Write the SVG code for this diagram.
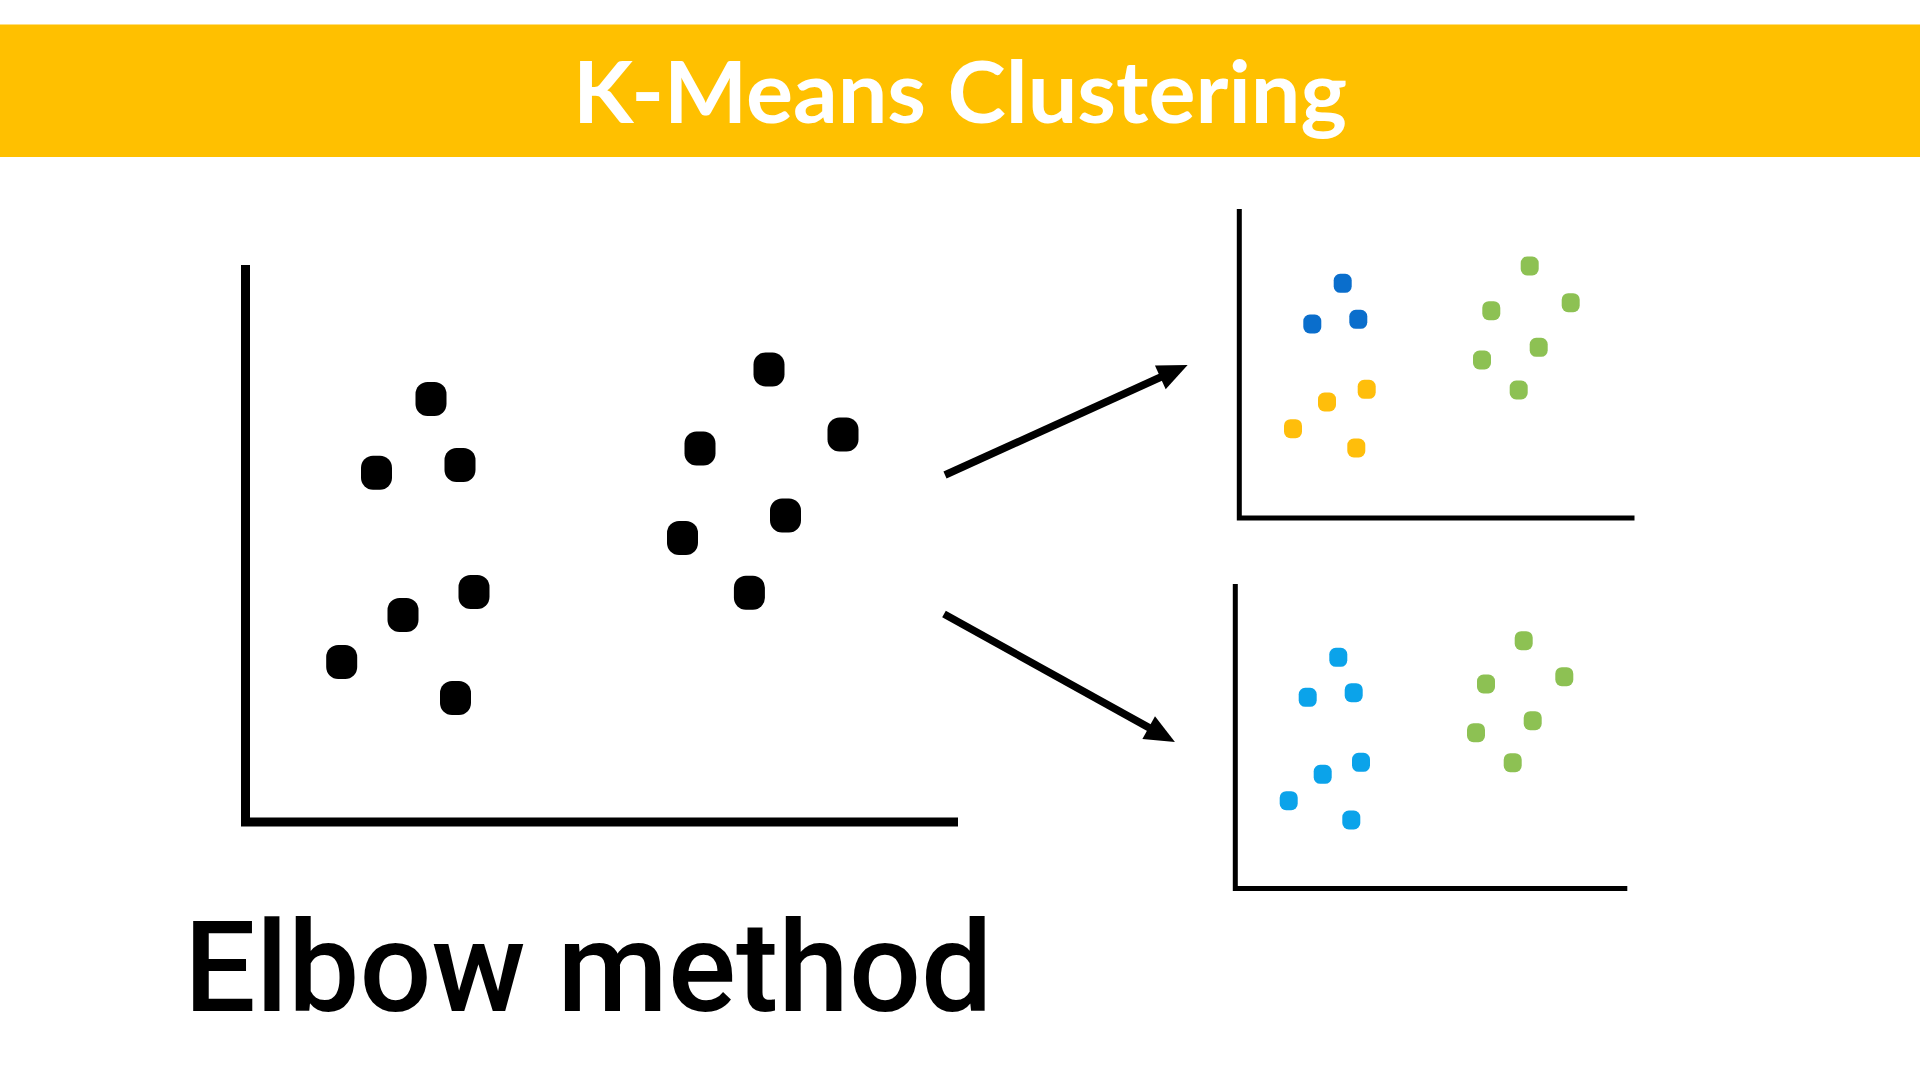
<svg xmlns="http://www.w3.org/2000/svg" width="1920" height="1080" viewBox="0 0 1920 1080">
  <style>
    .axis-big { fill: none; stroke: #000; stroke-width: 9; stroke-linejoin: miter; stroke-linecap: butt; }
    .axis-small { fill: none; stroke: #000; stroke-width: 5; stroke-linejoin: miter; stroke-linecap: butt; }
    .arrow { fill: none; stroke: #000; stroke-width: 7.5; stroke-linecap: butt; }
    .title { font-family: Lato, "Liberation Sans", sans-serif; font-weight: 700; font-size: 86px; fill: #FFFFFF; }
    .caption { font-family: Roboto, "Noto Sans", sans-serif; font-weight: 500; font-size: 127px; fill: #000; }
    .blk { fill: #000; }
    .blue { fill: #0A6ECC; }
    .yellow { fill: #FFBE0B; }
    .green { fill: #8DC153; }
    .sky { fill: #0BA3EA; }
  </style>
  <defs>
    <rect id="bigdot" x="-15.5" y="-17" width="31" height="34" rx="12" ry="12"/>
    <rect id="smalldot" x="-9" y="-9.5" width="18" height="19" rx="6.5" ry="6.5"/>
    <marker id="head" markerUnits="userSpaceOnUse" viewBox="0 0 30 26" markerWidth="30" markerHeight="26" refX="8" refY="13" orient="auto" overflow="visible">
      <path d="M0,0 L30,13 L0,26 Z" fill="#000"/>
    </marker>
  </defs>

  <rect x="0" y="0" width="1920" height="1080" fill="#FFFFFF"/>

  <g id="title-bar">
    <rect x="0" y="24.5" width="1920" height="132.5" fill="#FFC000"/>
    <text class="title" x="573" y="123" textLength="774" lengthAdjust="spacingAndGlyphs">K-Means Clustering</text>
  </g>

  <g id="raw-data-chart">
    <polyline class="axis-big" points="245.5,265 245.5,822 958,822"/>
    <use href="#bigdot" class="blk" x="431" y="399"/>
    <use href="#bigdot" class="blk" x="376.5" y="472.7"/>
    <use href="#bigdot" class="blk" x="460" y="465"/>
    <use href="#bigdot" class="blk" x="474" y="592"/>
    <use href="#bigdot" class="blk" x="403" y="615"/>
    <use href="#bigdot" class="blk" x="341.7" y="662"/>
    <use href="#bigdot" class="blk" x="455.5" y="698"/>
    <use href="#bigdot" class="blk" x="769" y="369.5"/>
    <use href="#bigdot" class="blk" x="700" y="448.5"/>
    <use href="#bigdot" class="blk" x="843" y="434.5"/>
    <use href="#bigdot" class="blk" x="785.5" y="515.5"/>
    <use href="#bigdot" class="blk" x="682.5" y="538"/>
    <use href="#bigdot" class="blk" x="749.4" y="592.7"/>
  </g>

  <g id="connectors">
    <line class="arrow" x1="945" y1="475" x2="1167.6" y2="374" marker-end="url(#head)"/>
    <line class="arrow" x1="944" y1="614" x2="1155.7" y2="731.4" marker-end="url(#head)"/>
  </g>

  <g id="three-cluster-chart">
    <polyline class="axis-small" points="1239.3,209 1239.3,518 1634.5,518"/>
    <use href="#smalldot" class="blue" x="1342.7" y="283.3"/>
    <use href="#smalldot" class="blue" x="1312.3" y="324"/>
    <use href="#smalldot" class="blue" x="1358.3" y="319.3"/>
    <use href="#smalldot" class="yellow" x="1366.7" y="389.3"/>
    <use href="#smalldot" class="yellow" x="1327" y="402"/>
    <use href="#smalldot" class="yellow" x="1293" y="428.7"/>
    <use href="#smalldot" class="yellow" x="1356.3" y="448"/>
    <use href="#smalldot" class="green" x="1529.7" y="266"/>
    <use href="#smalldot" class="green" x="1491.3" y="310.7"/>
    <use href="#smalldot" class="green" x="1570.7" y="302.7"/>
    <use href="#smalldot" class="green" x="1538.7" y="347.3"/>
    <use href="#smalldot" class="green" x="1482" y="360"/>
    <use href="#smalldot" class="green" x="1518.7" y="390"/>
  </g>

  <g id="two-cluster-chart">
    <polyline class="axis-small" points="1235.3,584 1235.3,888.5 1627.3,888.5"/>
    <use href="#smalldot" class="sky" x="1338.3" y="657.3"/>
    <use href="#smalldot" class="sky" x="1307.7" y="697.3"/>
    <use href="#smalldot" class="sky" x="1353.7" y="692.7"/>
    <use href="#smalldot" class="sky" x="1361" y="762.3"/>
    <use href="#smalldot" class="sky" x="1322.7" y="774.3"/>
    <use href="#smalldot" class="sky" x="1288.7" y="800.7"/>
    <use href="#smalldot" class="sky" x="1351.3" y="820"/>
    <use href="#smalldot" class="green" x="1523.7" y="640.7"/>
    <use href="#smalldot" class="green" x="1486" y="684"/>
    <use href="#smalldot" class="green" x="1564.3" y="676.7"/>
    <use href="#smalldot" class="green" x="1532.7" y="720.7"/>
    <use href="#smalldot" class="green" x="1476" y="732.7"/>
    <use href="#smalldot" class="green" x="1512.7" y="762.7"/>
  </g>

  <g id="caption">
    <text class="caption" x="184" y="1011">Elbow method</text>
  </g>
</svg>
